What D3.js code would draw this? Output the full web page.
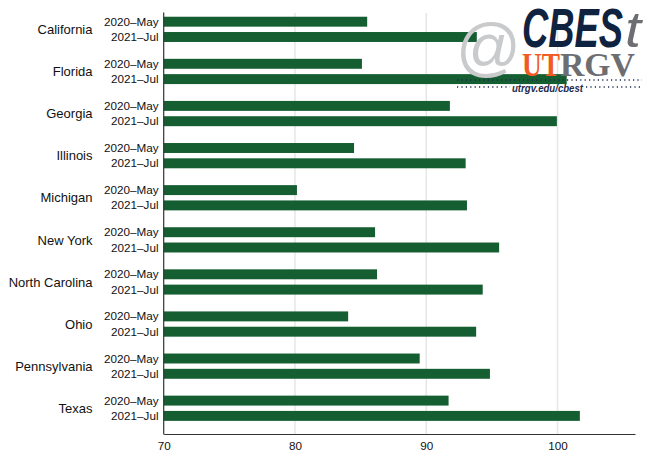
<!DOCTYPE html>
<html>
<head>
<meta charset="utf-8">
<script src="https://cdn.jsdelivr.net/npm/d3@7"></script>
<style>
  html, body { margin: 0; padding: 0; background: #fff; }
  svg { display: block; font-family: "Liberation Sans", Arial, Helvetica, sans-serif; }
</style>
</head>
<body>
<svg id="chart" width="645" height="455"></svg>
<script>
const states = ["California","Florida","Georgia","Illinois","Michigan","New York","North Carolina","Ohio","Pennsylvania","Texas"];
const periods = ["2020\u2013May","2021\u2013Jul"];
const may2020 = [85.5, 85.1, 91.8, 84.5, 80.15, 86.1, 86.25, 84.05, 89.5, 91.7];
const jul2021 = [93.85, 100.7, 99.95, 93.0, 93.1, 95.55, 94.3, 93.8, 94.85, 101.7];
const xTicks = [70, 80, 90, 100];

const svg = d3.select("#chart");
const x = d3.scaleLinear().domain([70, 105.9]).range([163.7, 635]);
const y = d3.scaleBand().domain(states).range([8.3, 429.3]).paddingInner(0).paddingOuter(0);
const inner = d3.scaleBand().domain(periods).range([y.bandwidth()/2 - 15.3, y.bandwidth()/2 + 15.3]).paddingInner(0.35).paddingOuter(0.175);

// gridlines
svg.append("g").selectAll("line").data(xTicks.filter(t => t > 70)).join("line")
  .attr("x1", d => x(d)).attr("x2", d => x(d))
  .attr("y1", 13).attr("y2", 434)
  .attr("stroke", "#e6e6e6").attr("stroke-width", 1.5);

const rows = states.map((s, i) => ({state: s, vals: [may2020[i], jul2021[i]]}));

const g = svg.append("g").selectAll("g").data(rows).join("g")
  .attr("transform", d => `translate(0,${y(d.state)})`);

g.selectAll("rect").data(d => d.vals.map((v, j) => ({p: periods[j], v}))).join("rect")
  .attr("x", x(70))
  .attr("y", d => inner(d.p))
  .attr("height", inner.bandwidth())
  .attr("width", d => x(d.v) - x(70))
  .attr("fill", "#155e32");

g.selectAll("text.sub").data(periods).join("text")
  .attr("class", "sub")
  .attr("x", 158.5)
  .attr("y", p => inner(p) + inner.bandwidth()/2)
  .attr("dy", "0.35em")
  .attr("text-anchor", "end")
  .attr("font-size", "11.7px")
  .attr("fill", "#111")
  .text(p => p);

g.append("text")
  .attr("x", 92.5)
  .attr("y", y.bandwidth()/2)
  .attr("dy", "0.36em")
  .attr("text-anchor", "end")
  .attr("font-size", "13px")
  .attr("fill", "#111")
  .text(d => d.state);

// axes
const xAxis = d3.axisBottom(x).tickValues(xTicks).tickSize(0).tickPadding(8);
const ax = svg.append("g").attr("transform", "translate(0,434)").call(xAxis);
ax.select(".domain").attr("stroke", "#333").attr("stroke-width", 1.2);
ax.selectAll("text").attr("font-size", "11.7px").attr("fill", "#111")
  .attr("font-family", "'Liberation Sans', Arial, sans-serif");

svg.append("line").attr("x1", x(70)).attr("x2", x(70)).attr("y1", 12.5).attr("y2", 434.5)
  .attr("stroke", "#333").attr("stroke-width", 1.2);

// logo
const logo = svg.append("g");
logo.append("text").attr("x", 456).attr("y", 69).attr("font-size", "64px")
  .attr("fill", "#c9cacc").attr("font-family", "'Liberation Sans', Arial, sans-serif").text("@");
logo.append("text").attr("x", 522).attr("y", 47).attr("font-size", "55px").attr("font-weight", "bold")
  .attr("font-style", "italic").attr("fill", "#0f2341")
  .attr("textLength", 101).attr("lengthAdjust", "spacingAndGlyphs").text("CBES");
logo.append("text").attr("x", 625).attr("y", 47).attr("font-size", "50px")
  .attr("font-style", "italic").attr("fill", "#6d6e71")
  .attr("textLength", 16).attr("lengthAdjust", "spacingAndGlyphs").text("t");
logo.append("text").attr("x", 522).attr("y", 76).attr("font-size", "33px").attr("font-weight", "bold")
  .attr("font-family", "'Liberation Serif', 'DejaVu Serif', serif").attr("fill", "#f15a22")
  .attr("textLength", 38).attr("lengthAdjust", "spacingAndGlyphs").text("UT");
logo.append("text").attr("x", 560).attr("y", 76).attr("font-size", "33px").attr("font-weight", "bold")
  .attr("font-family", "'Liberation Serif', 'DejaVu Serif', serif").attr("fill", "#6d6e71")
  .attr("textLength", 75).attr("lengthAdjust", "spacingAndGlyphs").text("RGV");
logo.append("line").attr("x1", 457).attr("x2", 642).attr("y1", 80).attr("y2", 80)
  .attr("stroke", "#1d2a4d").attr("stroke-width", 1.3).attr("stroke-dasharray", "1.2,3.2");
logo.append("line").attr("x1", 457).attr("x2", 510).attr("y1", 87).attr("y2", 87)
  .attr("stroke", "#1d2a4d").attr("stroke-width", 1.3).attr("stroke-dasharray", "1.2,3.2");
logo.append("line").attr("x1", 586).attr("x2", 642).attr("y1", 87).attr("y2", 87)
  .attr("stroke", "#1d2a4d").attr("stroke-width", 1.3).attr("stroke-dasharray", "1.2,3.2");
logo.append("text").attr("x", 512).attr("y", 92).attr("font-size", "10px").attr("font-style", "italic")
  .attr("font-weight", "bold").attr("fill", "#1d2a4d")
  .attr("textLength", 71).attr("lengthAdjust", "spacingAndGlyphs").text("utrgv.edu/cbest");
</script>
</body>
</html>
